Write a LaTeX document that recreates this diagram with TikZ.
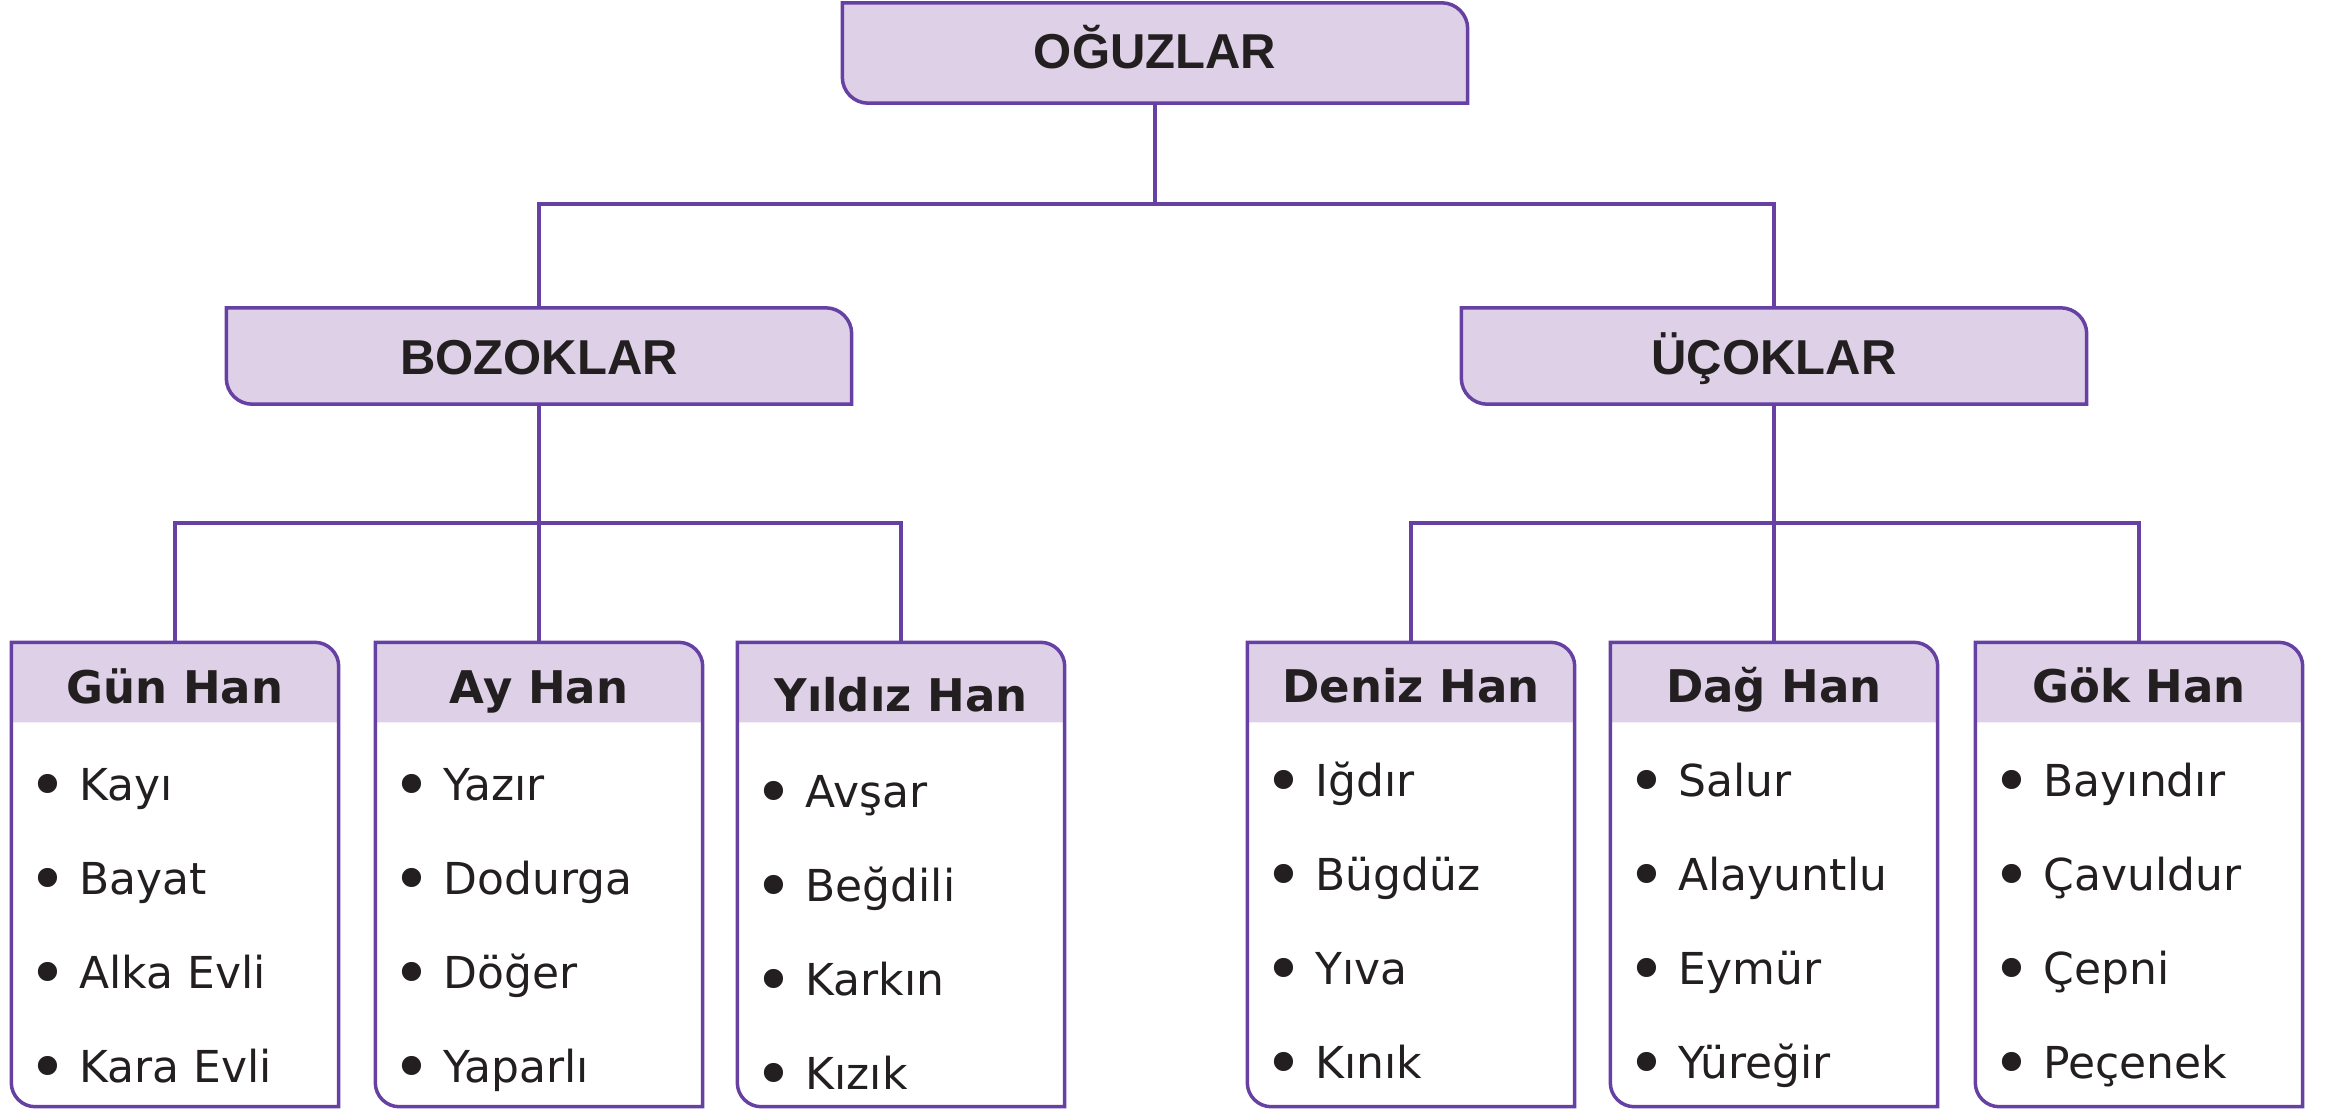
\documentclass[tikz,border=0pt]{standalone}
\usepackage{fontspec}
\setmainfont{DejaVu Sans}
\newfontfamily\titlefont{Liberation Sans}
\definecolor{lineP}{RGB}{102,64,162}
\definecolor{fillP}{RGB}{221,208,231}
\definecolor{txt}{RGB}{35,31,32}

\newcommand\drawtitlebox[1]{%
  \filldraw[fill=fillP, draw=lineP, line width=3.5pt]
   (#1.north west) -- ([xshift=-26pt]#1.north east)
   arc[start angle=90,end angle=0,radius=26pt] -- (#1.south east)
   -- ([xshift=26pt]#1.south west)
   arc[start angle=270,end angle=180,radius=26pt] -- cycle;}

\newcommand\drawleafbox[1]{%
  \fill[fillP] (#1.north west) -- ([xshift=-24pt]#1.north east)
   arc[start angle=90,end angle=0,radius=24pt] -- ([yshift=-80pt]#1.north east)
   -- ([yshift=-80pt]#1.north west) -- cycle;
  \draw[draw=lineP, line width=3.5pt]
   (#1.north west) -- ([xshift=-24pt]#1.north east)
   arc[start angle=90,end angle=0,radius=24pt] -- (#1.south east)
   -- ([xshift=24pt]#1.south west)
   arc[start angle=270,end angle=180,radius=24pt] -- cycle;}

\newcommand\bul{{\fontsize{66}{66}\selectfont\raisebox{-8.5pt}{•}}\hspace{12pt}}

% #1 name, #2 centre x, #3 header baseline, #4 first item baseline, #5 header, #6-#9 items
\newcommand\leafgroup[9]{%
  \node[leafnode] (#1) at (#2,-874.5) {};
  \drawleafbox{#1}
  \node[headtext, anchor=base] (#1-h) at (#2,-#3) {#5};
  \node[itemtext, anchor=base west] (#1-a) at ({#2-146.5},{-#4}) {\bul #6};
  \node[itemtext, anchor=base west] (#1-b) at ({#2-146.5},{-#4-94}) {\bul #7};
  \node[itemtext, anchor=base west] (#1-c) at ({#2-146.5},{-#4-188}) {\bul #8};
  \node[itemtext, anchor=base west] (#1-d) at ({#2-146.5},{-#4-282}) {\bul #9};
}

\begin{document}
\begin{tikzpicture}[x=1pt,y=1pt,
  titlenode/.style={rectangle, draw=none, inner sep=0pt, minimum width=625pt},
  leafnode/.style={rectangle, draw=none, inner sep=0pt, minimum width=327pt, minimum height=464pt},
  titletext/.style={inner sep=0pt, text=txt, font=\titlefont\bfseries\fontsize{49}{55}\selectfont},
  headtext/.style={inner sep=0pt, text=txt, font=\bfseries\fontsize{45}{50}\selectfont},
  itemtext/.style={inner sep=0pt, text=txt, font=\fontsize{44}{50}\selectfont},
  conn/.style={draw=lineP, line width=3.5pt}]
\useasboundingbox (0,0) rectangle (2331,-1109);

% title boxes
\node[titlenode, minimum height=100pt] (oguz) at (1155,-53) {};
\node[titlenode, minimum height=96pt] (boz) at (539,-356) {};
\node[titlenode, minimum height=96pt] (uc) at (1774,-356) {};

% junctions
\coordinate (j0) at (1155,-204);
\coordinate (jb) at (539,-523);
\coordinate (ju) at (1774,-523);

% leaf boxes
\leafgroup{gun}{175}{703}{800}{Gün Han}{Kayı}{Bayat}{Alka Evli}{Kara Evli}
\leafgroup{ay}{539}{703}{800}{Ay Han}{Yazır}{Dodurga}{Döğer}{Yaparlı}
\leafgroup{yil}{901}{711}{807}{Yıldız Han}{Avşar}{Beğdili}{Karkın}{Kızık}
\leafgroup{den}{1411}{702}{796}{Deniz Han}{Iğdır}{Bügdüz}{Yıva}{Kınık}
\leafgroup{dag}{1774}{702}{796}{Dağ Han}{Salur}{Alayuntlu}{Eymür}{Yüreğir}
\leafgroup{gok}{2139}{702}{796}{Gök Han}{Bayındır}{Çavuldur}{Çepni}{Peçenek}

% connectors
\draw[conn] (oguz.south) -- (j0);
\draw[conn] (boz.north) |- (j0) -| (uc.north);
\draw[conn] (boz.south) -- (jb);
\draw[conn] (gun.north) |- (jb) -| (yil.north);
\draw[conn] (jb) -- (ay.north);
\draw[conn] (uc.south) -- (ju);
\draw[conn] (den.north) |- (ju) -| (gok.north);
\draw[conn] (ju) -- (dag.north);

% title box shapes and texts
\drawtitlebox{oguz}
\drawtitlebox{boz}
\drawtitlebox{uc}
\node[titletext, anchor=base] (oguz-t) at (1155,-68) {OĞUZLAR};
\node[titletext, anchor=base] (boz-t) at (539,-374) {BOZOKLAR};
\node[titletext, anchor=base] (uc-t) at (1774,-374) {ÜÇOKLAR};
\end{tikzpicture}
\end{document}
